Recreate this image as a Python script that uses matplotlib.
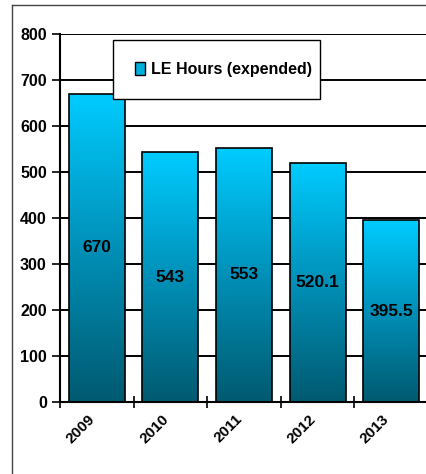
import numpy as np
import matplotlib
matplotlib.use("Agg")
import matplotlib.pyplot as plt
from matplotlib.colors import LinearSegmentedColormap
from matplotlib.patches import Rectangle
from matplotlib.lines import Line2D
from matplotlib.transforms import ScaledTranslation

plt.rcParams['font.family'] = ['Liberation Sans Narrow', 'Liberation Sans', 'DejaVu Sans']

years = ['2009', '2010', '2011', '2012', '2013']
hours = [670, 543, 553, 520.1, 395.5]
labels = ['670', '543', '553', '520.1', '395.5']
series_name = 'LE Hours (expended)'

grad = LinearSegmentedColormap.from_list('bar', ['#005a70', '#0090b8', '#00ccff'])

fig = plt.figure(figsize=(4.27, 4.74), dpi=100)
ax = fig.add_axes([60 / 427, 1 - 402 / 474, 368 / 427, 368 / 474])

x = np.arange(len(years))
bars = ax.bar(x, hours, width=0.76, facecolor='none', edgecolor='black', linewidth=1.2, zorder=3)

g = np.linspace(0, 1, 256).reshape(-1, 1)
for b in bars:
    x0, w, h = b.get_x(), b.get_width(), b.get_height()
    im = ax.imshow(g, cmap=grad, origin='lower', aspect='auto',
                   extent=(x0, x0 + w, 0, h), zorder=2)
    im.set_clip_path(b)

for xi, v, t in zip(x, hours, labels):
    ax.text(xi, v / 2, t, ha='center', va='center', fontsize=12.5, fontweight='bold', zorder=4)

ax.set_xlim(-0.5, len(years) - 0.5)
ax.set_ylim(0, 800)
ax.set_yticks(range(0, 801, 100))
ax.yaxis.grid(True, color='black', linewidth=1.4, zorder=0)
ax.set_axisbelow(True)
ax.set_xticks(np.arange(-0.5, len(years) - 0.5, 1))
ax.set_xticklabels([])
ax.set_xticks(x, minor=True)
ax.set_xticklabels(years, minor=True, rotation=45, ha='right', va='top',
                   rotation_mode='anchor', fontsize=11, fontweight='bold')
ax.tick_params(axis='x', which='minor', length=0, pad=7)
ax.tick_params(axis='x', which='major', direction='inout', length=8, width=1.2)
ax.tick_params(axis='y', direction='out', length=6, width=1.2, labelsize=11.5)
shift = ScaledTranslation(-0.09, 0, fig.dpi_scale_trans)
for lab in ax.get_xticklabels(minor=True):
    lab.set_transform(lab.get_transform() + shift)
for lab in ax.get_yticklabels():
    lab.set_fontweight('bold')
for s in ['top', 'right']:
    ax.spines[s].set_visible(False)
for s in ['left', 'bottom']:
    ax.spines[s].set_linewidth(1.5)

handle = Rectangle((0, 0), 1, 1, facecolor='#00b0dd', edgecolor='black', linewidth=1)
leg = ax.legend([handle], [series_name], loc='center',
                bbox_to_anchor=(53 / 368, 301 / 368, 207 / 368, 63 / 368),
                mode='expand', borderaxespad=0, fancybox=False, edgecolor='black',
                framealpha=1, borderpad=1.4, handlelength=0.6, handleheight=0.9,
                handletextpad=0.35, prop={'weight': 'bold', 'size': 11.5})
leg.get_frame().set_linewidth(1.0)
leg.set_zorder(5)

# outer chart border (cut at bottom and right)
fig.add_artist(Line2D([12 / 427, 1], [1 - 5 / 474] * 2, color='#444444', linewidth=1))
fig.add_artist(Line2D([12 / 427] * 2, [0, 1 - 5 / 474], color='#444444', linewidth=1))

fig.savefig('out.png', dpi=100)
